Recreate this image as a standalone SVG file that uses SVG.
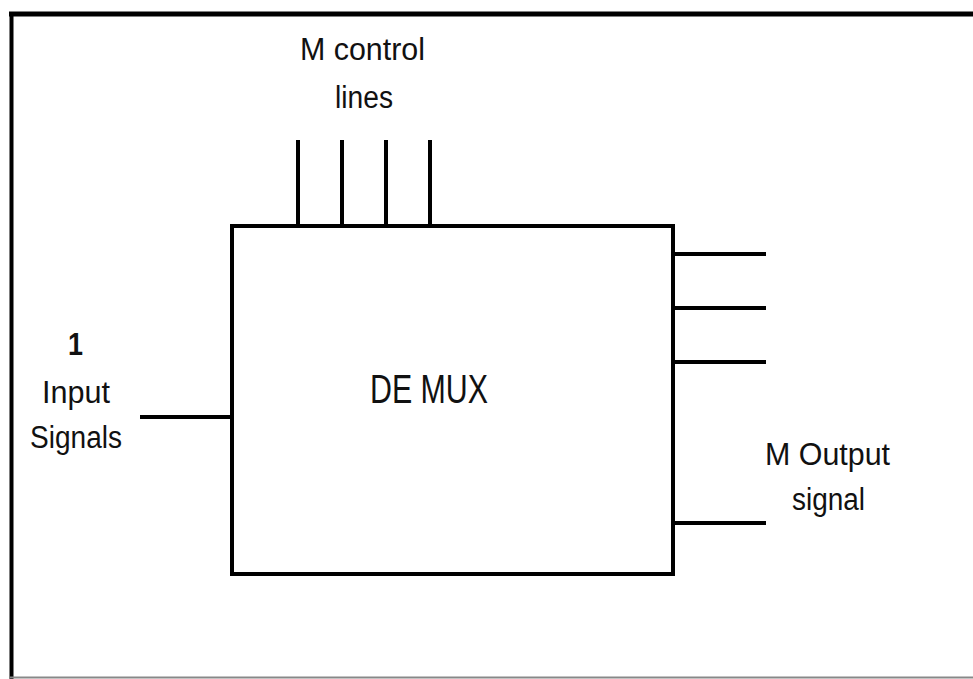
<svg xmlns="http://www.w3.org/2000/svg" width="973" height="679" viewBox="0 0 973 679">
<style>
.lbl{font-family:"Liberation Sans",Arial,sans-serif;font-size:31px;fill:#111;}
.ttl{font-family:"Liberation Sans",Arial,sans-serif;font-size:40px;fill:#111;}
.w{stroke:#000;stroke-width:4;fill:none;stroke-linecap:butt;}
</style>
<rect width="973" height="679" fill="#fff"/>
<g id="frame">
<line x1="9" y1="14" x2="973" y2="14" stroke="#000" stroke-width="5"/>
<line x1="11.5" y1="12" x2="11.5" y2="679" stroke="#000" stroke-width="4"/>
<line x1="10" y1="677.5" x2="973" y2="677.5" stroke="#888" stroke-width="2"/>
</g>
<g id="demux">
<rect x="232" y="226" width="441" height="348" class="w"/>
<text class="ttl" x="370" y="403" textLength="118" lengthAdjust="spacingAndGlyphs">DE MUX</text>
</g>
<g id="control-label">
<text class="lbl" x="300" y="60" textLength="125" lengthAdjust="spacingAndGlyphs">M control</text>
<text class="lbl" x="335" y="108" textLength="58" lengthAdjust="spacingAndGlyphs">lines</text>
</g>
<g id="input-label">
<text class="lbl" x="68" y="355" textLength="15" lengthAdjust="spacingAndGlyphs" font-weight="bold">1</text>
<text class="lbl" x="42" y="403" textLength="68" lengthAdjust="spacingAndGlyphs">Input</text>
<text class="lbl" x="30" y="448" textLength="92" lengthAdjust="spacingAndGlyphs">Signals</text>
</g>
<g id="output-label">
<text class="lbl" x="765" y="465" textLength="125" lengthAdjust="spacingAndGlyphs">M Output</text>
<text class="lbl" x="792" y="510" textLength="73" lengthAdjust="spacingAndGlyphs">signal</text>
</g>
<g id="connectors">
<line class="w" x1="298" y1="140" x2="298" y2="226"/>
<line class="w" x1="342" y1="140" x2="342" y2="226"/>
<line class="w" x1="386" y1="140" x2="386" y2="226"/>
<line class="w" x1="430" y1="140" x2="430" y2="226"/>
<line class="w" x1="140" y1="417" x2="232" y2="417"/>
<line class="w" x1="673" y1="254" x2="766" y2="254"/>
<line class="w" x1="673" y1="308" x2="766" y2="308"/>
<line class="w" x1="673" y1="362" x2="766" y2="362"/>
<line class="w" x1="673" y1="523" x2="766" y2="523"/>
</g>
</svg>
